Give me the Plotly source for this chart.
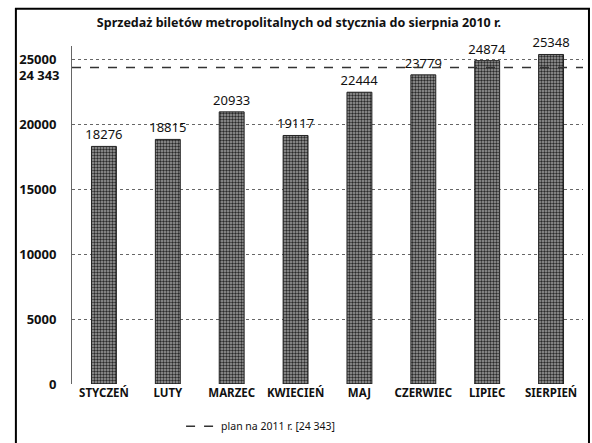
import plotly.graph_objects as go

months = ["STYCZEŃ", "LUTY", "MARZEC", "KWIECIEŃ", "MAJ", "CZERWIEC", "LIPIEC", "SIERPIEŃ"]
sales = [18276, 18815, 20933, 19117, 22444, 23779, 24874, 25348]
plan_value = 24343
plan_label = "plan na 2011 r. [24 343]"
plan_tick_text = "24 343"
y_ticks = [0, 5000, 10000, 15000, 20000, 25000]
title_text = "Sprzedaż biletów metropolitalnych od stycznia do sierpnia 2010 r."

font_family = "Noto Sans, Liberation Sans, sans-serif"

fig = go.Figure()
fig.add_trace(go.Bar(
    x=months, y=sales,
    text=[str(v) for v in sales], textposition="outside",
    constraintext="none",
    textfont=dict(size=13, color="#111", family=font_family),
    cliponaxis=False,
    marker=dict(
        color="#8a8a8a",
        line=dict(color="#222", width=1),
        pattern=dict(shape=".", fgcolor="#2a2a2a", bgcolor="#a0a0a0", size=3, solidity=0.5, fillmode="replace"),
    ),
    showlegend=False,
))
# legend-only entry for the plan line
fig.add_trace(go.Scatter(
    x=[None], y=[None],
    mode="lines",
    line=dict(color="#333", width=1.5, dash="dash"),
    name=plan_label,
    showlegend=True,
))
# plan line across the full plot width
fig.add_shape(type="line", xref="paper", yref="y", x0=0, x1=1, y0=plan_value, y1=plan_value,
              line=dict(color="#333", width=1.5, dash="dash"), layer="above")

fig.update_layout(
    width=592, height=443,
    margin=dict(l=72, r=9, t=46, b=59, autoexpand=False),
    paper_bgcolor="white", plot_bgcolor="white",
    font=dict(family=font_family, size=12, color="#111"),
    title=dict(text="<b>" + title_text + "</b>", x=0.505, xanchor="center", y=0.948, yanchor="middle",
               font=dict(size=12.5, color="#111", family=font_family)),
    bargap=0.61,
    showlegend=True,
    legend=dict(orientation="h", x=0.37, xanchor="center", y=-0.125, yanchor="middle",
                font=dict(size=10.5, color="#111"), bgcolor="rgba(0,0,0,0)"),
    xaxis=dict(
        showgrid=False, showline=False, ticks="",
        tickvals=months, ticktext=["<b>%s</b>" % m for m in months],
        tickfont=dict(size=11.5, color="#111"),
    ),
    yaxis=dict(
        range=[0, 26000],
        tickvals=y_ticks, ticktext=["<b>%d</b>" % v for v in y_ticks],
        showgrid=True, gridcolor="#666", griddash="dot", gridwidth=1,
        zeroline=False,
        showline=True, linecolor="#666", linewidth=1,
        ticks="", ticklabelstandoff=12,
        tickfont=dict(size=13, color="#111"),
    ),
)

# second label for plan level under 25000
fig.add_annotation(
    xref="paper", yref="y", x=0, y=plan_value, xanchor="right", yanchor="middle",
    xshift=-10, yshift=-7, text="<b>" + plan_tick_text + "</b>", showarrow=False,
    font=dict(size=13, color="#111", family=font_family),
)

# outer frame
fig.add_shape(type="rect", xref="paper", yref="paper",
              x0=-0.1098, x1=1.0117, y0=-0.3, y1=1.11,
              line=dict(color="black", width=2), fillcolor="rgba(0,0,0,0)", layer="above")

fig.write_html("out.html", config={"displayModeBar": False},
               post_script="document.body.style.margin='0';")
